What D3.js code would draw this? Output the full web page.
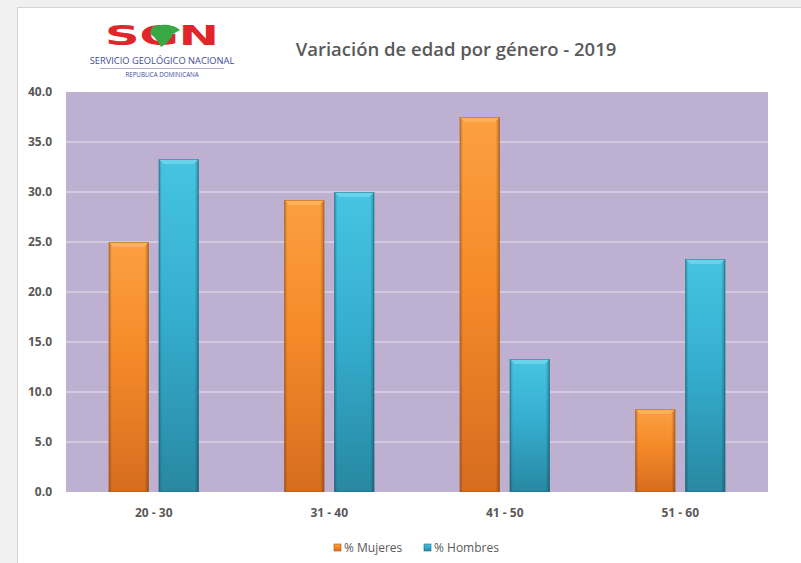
<!DOCTYPE html>
<html>
<head>
<meta charset="utf-8">
<script src="https://cdn.jsdelivr.net/npm/d3@7"></script>
<style>
  body { margin: 0; background: #f0f0f0; }
  svg { display: block; }
  .tick text { font-family: "Open Sans", sans-serif; }
</style>
</head>
<body>
<div id="chart"></div>
<script>
const categories = ["20 - 30", "31 - 40", "41 - 50", "51 - 60"]
const series = ["% Mujeres", "% Hombres"]
const mujeres = [25.0, 29.2, 37.5, 8.3]
const hombres = [33.3, 30.0, 13.3, 23.3]
const yTicks = [0, 5, 10, 15, 20, 25, 30, 35, 40]

const colors = {
    "% Mujeres": {top: "#fca040", mid: "#f58a2a", bot: "#d66d1f", edge: "#a8551a", cap: "#fdb25a"},
    "% Hombres": {top: "#47c4e2", mid: "#35afd0", bot: "#2888a2", edge: "#1e6a80", cap: "#6ad3ec"}
}

const W = 801, H = 563
const margin = {left: 66, top: 92, right: 33, bottom: 71}
const width = W - margin.left - margin.right
const height = H - margin.top - margin.bottom

const svg = d3.select("#chart").append("svg")
    .attr("width", W).attr("height", H)

// white chart sheet with thin border
svg.append("rect")
    .attr("x", 17.5).attr("y", 7.5)
    .attr("width", W).attr("height", H)
    .attr("fill", "#ffffff")
    .attr("stroke", "#d4d4d4")

const defs = svg.append("defs")
series.forEach((s, i) => {
    const g = defs.append("linearGradient")
        .attr("id", "grad" + i)
        .attr("x1", 0).attr("y1", 0).attr("x2", 0).attr("y2", 1)
    g.append("stop").attr("offset", "0%").attr("stop-color", colors[s].top)
    g.append("stop").attr("offset", "45%").attr("stop-color", colors[s].mid)
    g.append("stop").attr("offset", "100%").attr("stop-color", colors[s].bot)
    const h = defs.append("linearGradient")
        .attr("id", "side" + i)
        .attr("x1", 0).attr("y1", 0).attr("x2", 1).attr("y2", 0)
    h.append("stop").attr("offset", "0%").attr("stop-color", "#000").attr("stop-opacity", 0.25)
    h.append("stop").attr("offset", "8%").attr("stop-color", "#000").attr("stop-opacity", 0)
    h.append("stop").attr("offset", "90%").attr("stop-color", "#000").attr("stop-opacity", 0)
    h.append("stop").attr("offset", "100%").attr("stop-color", "#000").attr("stop-opacity", 0.3)
})

const plot = svg.append("g").attr("transform", `translate(${margin.left},${margin.top})`)

const x0 = d3.scaleBand().domain(categories).range([0, width])
const y = d3.scaleLinear().domain([0, 40]).range([height, 0])

plot.append("rect")
    .attr("width", width).attr("height", height)
    .attr("fill", "#bdb0d0")

// gridlines
plot.selectAll(".grid").data(yTicks.filter(d => d > 0 && d < 40))
    .join("line")
    .attr("class", "grid")
    .attr("x1", 0).attr("x2", width)
    .attr("y1", d => y(d)).attr("y2", d => y(d))
    .attr("stroke", "#dcd3e6").attr("stroke-width", 1.5)

const yAxis = plot.append("g")
    .call(d3.axisLeft(y).tickValues(yTicks).tickFormat(d3.format(".1f")).tickSize(0).tickPadding(14))
yAxis.select(".domain").remove()
yAxis.selectAll("text")
    .attr("font-size", 12).attr("font-weight", 700).attr("fill", "#595959")

const xAxis = plot.append("g")
    .attr("transform", `translate(0,${height})`)
    .call(d3.axisBottom(x0).tickSize(0).tickPadding(16))
xAxis.select(".domain").remove()
xAxis.selectAll("text")
    .attr("font-size", 12).attr("font-weight", 700).attr("fill", "#595959")

const rows = categories.map((c, i) => ({cat: c, values: [mujeres[i], hombres[i]]}))

const groups = plot.selectAll(".grp").data(rows)
    .join("g")
    .attr("class", "grp")
    .attr("transform", d => `translate(${x0(d.cat) + x0.bandwidth() / 2 - 45},0)`)

const x1 = d3.scaleBand().domain(series).range([0, 90]).paddingInner(0.2)

groups.each(function(d) {
    const g = d3.select(this)
    series.forEach((s, i) => {
        const v = d.values[i]
        const bx = x1(s), bw = x1.bandwidth()
        const by = y(v), bh = height - y(v)
        g.append("rect")
            .attr("x", bx).attr("y", by).attr("width", bw).attr("height", bh)
            .attr("fill", `url(#grad${i})`)
        g.append("rect")
            .attr("x", bx).attr("y", by).attr("width", bw).attr("height", bh)
            .attr("fill", `url(#side${i})`)
        // top bevel
        g.append("path")
            .attr("d", `M${bx},${by} L${bx + bw},${by} L${bx + bw - 5},${by + 5} L${bx + 5},${by + 5} Z`)
            .attr("fill", colors[s].cap)
        g.append("rect")
            .attr("x", bx + 0.5).attr("y", by + 0.5).attr("width", bw - 1).attr("height", bh - 1)
            .attr("fill", "none").attr("stroke", colors[s].edge).attr("stroke-opacity", 0.5)
    })
})

// title
svg.append("text")
    .attr("x", 456).attr("y", 56)
    .attr("text-anchor", "middle")
    .attr("font-family", "Open Sans, sans-serif")
    .attr("font-size", 18.5).attr("font-weight", 600)
    .attr("fill", "#595959")
    .text("Variación de edad por género - 2019")

// logo
const logo = svg.append("g").attr("transform", "translate(162,0)")
logo.append("text")
    .attr("x", -57).attr("y", 45)
    .attr("font-family", "DejaVu Sans, sans-serif")
    .attr("font-size", 27).attr("font-weight", 700)
    .attr("textLength", 114).attr("lengthAdjust", "spacingAndGlyphs")
    .attr("fill", "#e0262a")
    .text("SGN")
logo.append("path")
    .attr("d", "M-10,27 C0,23 12,25 18,30 L11,34 C9,38 6,43 -1,47 C-3,42 -8,37 -12,33 Z")
    .attr("fill", "#38a844")
logo.append("text")
    .attr("x", 0).attr("y", 64)
    .attr("text-anchor", "middle")
    .attr("font-family", "Open Sans, sans-serif")
    .attr("font-size", 9.3)
    .attr("fill", "#3d4c9c")
    .text("SERVICIO GEOLÓGICO NACIONAL")
logo.append("line")
    .attr("x1", -62).attr("x2", 62).attr("y1", 68.5).attr("y2", 68.5)
    .attr("stroke", "#aab0d8")
logo.append("text")
    .attr("x", 0).attr("y", 77)
    .attr("text-anchor", "middle")
    .attr("font-family", "Open Sans, sans-serif")
    .attr("font-size", 6.2)
    .attr("fill", "#3d4c9c")
    .text("REPUBLICA DOMINICANA")

// legend
const legend = svg.append("g").attr("transform", "translate(334,548)")
const legendX = [0, 90]
series.forEach((s, i) => {
    const lg = legend.append("g").attr("transform", `translate(${legendX[i]},0)`)
    lg.append("rect")
        .attr("x", 0).attr("y", -4).attr("width", 7).attr("height", 7)
        .attr("fill", `url(#grad${i})`)
        .attr("stroke", colors[s].edge).attr("stroke-width", 0.6)
    lg.append("text")
        .attr("x", 10).attr("y", 4)
        .attr("font-family", "Open Sans, sans-serif")
        .attr("font-size", 12)
        .attr("fill", "#595959")
        .text(s)
})
</script>
</body>
</html>
